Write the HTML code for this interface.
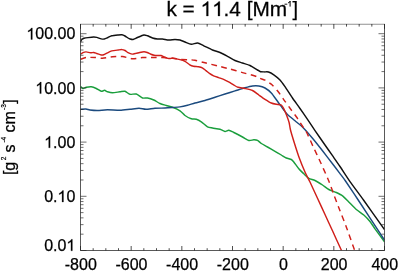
<!DOCTYPE html>
<html><head><meta charset="utf-8"><title>k = 11.4</title>
<style>html,body{margin:0;padding:0;background:#fff;}body{width:399px;height:274px;overflow:hidden;position:relative;font-family:"Liberation Sans",sans-serif;}</style>
</head><body>
<svg width="399" height="274" viewBox="0 0 399 274" style="position:absolute;left:0;top:0;will-change:transform">
<rect width="399" height="274" fill="#fff"/>
<g fill="none" stroke-linejoin="round" stroke-linecap="butt" stroke-width="1.45">
<clipPath id="c"><rect x="80.5" y="24.5" width="304.0" height="226.0"/></clipPath>
<g clip-path="url(#c)">
<path d="M80.50 86.30C80.79 86.56 82.32 88.38 83.00 88.50C83.68 88.62 85.33 87.50 86.30 87.30C87.27 87.10 90.13 86.66 91.30 86.80C92.47 86.94 95.13 87.97 96.30 88.50C97.47 89.03 100.33 91.09 101.30 91.30C102.27 91.51 103.88 90.24 104.60 90.30C105.32 90.36 106.58 91.51 107.50 91.80C108.42 92.09 111.04 92.80 112.50 92.80C113.96 92.80 118.54 91.97 120.00 91.80C121.46 91.62 123.83 91.01 125.00 91.30C126.17 91.59 128.68 93.98 130.00 94.30C131.32 94.61 134.84 93.57 136.30 94.00C137.76 94.43 141.19 97.53 142.50 98.00C143.81 98.47 146.18 97.77 147.50 98.00C148.82 98.23 152.34 99.36 153.80 100.00C155.26 100.64 158.54 102.86 160.00 103.50C161.46 104.14 164.84 105.06 166.30 105.50C167.76 105.94 170.90 106.68 172.50 107.30C174.10 107.92 178.54 109.84 180.00 110.80C181.46 111.76 183.68 114.57 185.00 115.50C186.32 116.43 189.98 118.36 191.30 118.80C192.62 119.24 195.13 118.95 196.30 119.30C197.47 119.65 199.99 120.92 201.30 121.80C202.61 122.67 206.19 126.08 207.50 126.80C208.81 127.52 211.04 127.71 212.50 128.00C213.96 128.29 218.54 128.89 220.00 129.30C221.46 129.71 223.97 131.38 225.00 131.50C226.03 131.62 227.77 130.18 228.80 130.30C229.83 130.42 232.20 131.72 233.80 132.50C235.40 133.28 240.75 136.07 242.50 137.00C244.25 137.93 247.48 140.17 248.80 140.50C250.12 140.83 252.79 139.82 253.80 139.80C254.81 139.78 256.62 139.87 257.50 140.30C258.38 140.73 260.13 142.72 261.30 143.50C262.47 144.28 265.90 146.09 267.50 147.00C269.10 147.91 273.39 150.37 275.00 151.30C276.61 152.23 279.98 154.22 281.30 155.00C282.62 155.78 285.13 157.47 286.30 158.00C287.47 158.53 290.43 159.03 291.30 159.50C292.18 159.97 292.93 160.91 293.80 162.00C294.68 163.09 297.63 167.42 298.80 168.80C299.97 170.18 302.63 172.69 303.80 173.80C304.97 174.91 307.49 177.52 308.80 178.30C310.11 179.08 313.40 179.72 315.00 180.50C316.60 181.28 320.89 183.95 322.50 185.00C324.11 186.05 327.19 188.62 328.80 189.50C330.41 190.38 334.70 191.76 336.30 192.50C337.90 193.24 341.04 194.69 342.50 195.80C343.96 196.91 347.19 200.40 348.80 202.00C350.41 203.60 354.55 207.98 356.30 209.50C358.05 211.02 362.20 213.60 363.80 215.00C365.40 216.40 368.69 219.89 370.00 221.50C371.31 223.11 373.31 226.43 375.00 228.80C376.69 231.17 383.39 240.28 384.50 241.80" stroke="#1a9e3c"/>
<path d="M80.50 109.30C81.14 109.27 84.89 108.92 86.00 109.00C87.11 109.08 88.66 109.83 90.00 110.00C91.34 110.17 95.46 110.52 97.50 110.50C99.54 110.48 104.88 109.82 107.50 109.80C110.12 109.78 117.38 110.36 120.00 110.30C122.62 110.24 127.78 109.53 130.00 109.30C132.22 109.07 137.13 108.30 139.00 108.30C140.87 108.30 144.13 109.30 146.00 109.30C147.87 109.30 152.78 108.45 155.00 108.30C157.22 108.15 162.96 108.09 165.00 108.00C167.04 107.91 170.75 107.63 172.50 107.50C174.25 107.37 178.25 107.16 180.00 106.90C181.75 106.64 185.75 105.75 187.50 105.30C189.25 104.84 192.96 103.56 195.00 103.00C197.04 102.44 202.67 101.17 205.00 100.50C207.33 99.83 212.67 98.06 215.00 97.30C217.33 96.54 222.67 94.75 225.00 94.00C227.33 93.25 232.67 91.62 235.00 90.90C237.33 90.18 242.96 88.37 245.00 87.80C247.04 87.23 250.89 86.21 252.50 86.00C254.11 85.79 257.34 85.77 258.80 86.00C260.26 86.23 263.54 87.18 265.00 88.00C266.46 88.82 269.84 91.45 271.30 93.00C272.76 94.55 276.04 99.32 277.50 101.30C278.96 103.28 282.63 108.46 283.80 110.00C284.97 111.54 286.19 113.24 287.50 114.50C288.81 115.76 293.25 119.34 295.00 120.80C296.75 122.26 300.46 124.96 302.50 127.00C304.54 129.04 310.17 135.52 312.50 138.30C314.83 141.08 320.17 147.83 322.50 150.80C324.83 153.78 330.46 161.14 332.50 163.80C334.54 166.46 338.48 171.59 340.00 173.60C341.52 175.61 343.38 177.92 345.50 181.00C347.62 184.08 353.65 193.12 358.20 200.00C362.75 206.88 381.43 235.33 384.50 240.00" stroke="#1b4a7e"/>
<path d="M80.50 59.30C81.18 59.09 84.61 57.71 86.30 57.50C87.99 57.29 93.11 57.41 95.00 57.50C96.89 57.59 100.46 58.38 102.50 58.30C104.54 58.22 110.17 57.01 112.50 56.80C114.83 56.59 120.17 56.27 122.50 56.50C124.83 56.73 130.17 58.68 132.50 58.80C134.83 58.92 140.17 57.65 142.50 57.50C144.83 57.35 150.17 57.50 152.50 57.50C154.83 57.50 160.17 57.44 162.50 57.50C164.83 57.56 170.46 57.78 172.50 58.00C174.54 58.22 177.96 59.19 180.00 59.40C182.04 59.61 188.25 59.70 190.00 59.80C191.75 59.90 193.25 59.95 195.00 60.30C196.75 60.65 202.38 62.15 205.00 62.80C207.62 63.45 214.58 65.18 217.50 65.90C220.42 66.62 227.08 68.22 230.00 69.00C232.92 69.78 239.58 71.78 242.50 72.60C245.42 73.42 252.96 75.32 255.00 76.00C257.04 76.68 258.83 77.91 260.00 78.40C261.17 78.89 263.54 79.40 265.00 80.20C266.46 81.00 270.89 83.86 272.50 85.30C274.11 86.73 277.34 90.63 278.80 92.50C280.26 94.37 283.54 99.26 285.00 101.30C286.46 103.34 289.81 107.96 291.30 110.00C292.79 112.04 296.40 116.76 297.80 118.80C299.20 120.84 302.26 125.90 303.30 127.50C304.34 129.10 305.57 130.31 306.70 132.50C307.83 134.69 311.38 142.80 313.00 146.30C314.62 149.80 318.99 159.00 320.60 162.50C322.21 166.00 325.80 174.03 326.80 176.30C327.80 178.58 328.38 179.88 329.20 182.00C330.02 184.12 332.54 191.14 333.80 194.50C335.06 197.86 338.54 207.01 340.00 210.80C341.46 214.59 344.59 222.37 346.30 227.00C348.01 231.63 353.72 247.76 354.70 250.50" stroke="#d01f1a" stroke-dasharray="5.7 4.48"/>
<path d="M80.50 54.20C80.79 54.01 82.35 52.87 83.00 52.60C83.65 52.33 85.22 51.88 86.10 51.90C86.97 51.92 89.61 52.73 90.50 52.80C91.39 52.87 92.97 52.42 93.70 52.50C94.44 52.58 95.92 53.21 96.80 53.50C97.67 53.79 100.39 54.85 101.20 55.00C102.01 55.15 102.97 55.06 103.70 54.80C104.44 54.54 106.56 53.25 107.50 52.80C108.44 52.34 110.56 51.23 111.80 50.90C113.04 50.57 116.92 50.15 118.10 50.00C119.28 49.85 121.09 49.54 121.90 49.60C122.71 49.66 124.29 50.15 125.00 50.50C125.71 50.85 127.17 52.18 128.00 52.60C128.83 53.02 131.17 54.01 132.10 54.10C133.03 54.19 135.11 53.59 136.00 53.40C136.89 53.21 138.77 52.69 139.70 52.50C140.63 52.31 143.12 51.80 144.00 51.80C144.88 51.80 146.39 52.22 147.20 52.50C148.00 52.78 150.09 53.89 150.90 54.20C151.71 54.52 153.29 55.05 154.10 55.20C154.91 55.35 157.00 55.47 157.80 55.50C158.61 55.53 160.27 55.34 161.00 55.50C161.73 55.66 163.29 56.56 164.10 56.90C164.91 57.24 166.92 58.23 167.90 58.40C168.88 58.57 171.09 58.26 172.50 58.40C173.91 58.54 178.54 59.26 180.00 59.60C181.46 59.94 183.86 60.69 185.00 61.30C186.14 61.91 188.81 64.23 189.80 64.80C190.79 65.37 192.49 65.98 193.50 66.20C194.51 66.42 197.47 66.51 198.50 66.70C199.53 66.89 201.43 67.34 202.30 67.80C203.18 68.25 205.12 69.91 206.00 70.60C206.88 71.29 208.91 73.09 209.80 73.70C210.69 74.31 212.57 75.34 213.60 75.80C214.63 76.25 217.43 77.19 218.60 77.60C219.77 78.01 222.43 78.80 223.60 79.30C224.77 79.80 227.43 81.25 228.60 81.90C229.77 82.55 232.50 84.27 233.60 84.90C234.70 85.53 236.67 86.88 238.00 87.30C239.33 87.72 243.31 88.13 245.00 88.50C246.69 88.87 250.89 89.74 252.50 90.50C254.11 91.26 257.34 93.97 258.80 95.00C260.26 96.03 263.54 98.37 265.00 99.30C266.46 100.23 269.98 102.42 271.30 103.00C272.62 103.58 275.13 104.07 276.30 104.30C277.47 104.53 280.43 104.47 281.30 105.00C282.18 105.53 283.19 107.63 283.80 108.80C284.41 109.97 285.88 113.40 286.50 115.00C287.12 116.60 288.63 120.75 289.10 122.50C289.57 124.25 289.91 127.67 290.50 130.00C291.09 132.33 293.20 139.29 294.20 142.50C295.20 145.71 297.82 154.00 299.10 157.50C300.38 161.00 303.93 169.64 305.20 172.50C306.47 175.36 308.56 178.99 310.00 182.00C311.44 185.01 315.75 194.51 317.50 198.30C319.25 202.09 323.25 210.71 325.00 214.50C326.75 218.29 330.57 226.60 332.50 230.80C334.43 235.00 340.45 248.20 341.50 250.50" stroke="#d01f1a"/>
<path d="M80.50 42.00C80.59 41.79 81.07 40.55 81.30 40.20C81.53 39.85 82.19 39.22 82.50 39.00C82.81 38.78 83.36 38.46 84.00 38.30C84.64 38.14 86.87 37.75 88.00 37.60C89.13 37.45 92.67 37.02 93.70 37.00C94.73 36.98 95.92 37.18 96.80 37.40C97.67 37.62 100.33 38.71 101.20 38.90C102.08 39.09 103.51 39.16 104.30 39.00C105.09 38.84 107.12 37.87 108.00 37.50C108.88 37.13 110.62 36.09 111.80 35.80C112.98 35.51 116.92 35.12 118.10 35.00C119.28 34.88 121.09 34.68 121.90 34.80C122.71 34.92 124.29 35.63 125.00 36.00C125.71 36.37 127.42 37.65 128.00 38.00C128.58 38.35 129.42 38.83 130.00 39.00C130.58 39.17 132.12 39.67 133.00 39.50C133.88 39.33 136.24 38.02 137.50 37.50C138.76 36.98 142.63 35.20 143.80 35.00C144.97 34.80 146.49 35.45 147.50 35.80C148.51 36.15 151.33 37.63 152.50 38.00C153.67 38.37 156.33 38.88 157.50 39.00C158.67 39.12 161.18 38.88 162.50 39.00C163.82 39.12 167.34 39.94 168.80 40.00C170.26 40.06 173.69 39.50 175.00 39.50C176.31 39.50 178.83 39.71 180.00 40.00C181.17 40.29 183.68 41.50 185.00 42.00C186.32 42.50 189.84 44.18 191.30 44.30C192.76 44.42 196.04 42.83 197.50 43.00C198.96 43.17 202.05 44.98 203.80 45.80C205.55 46.62 210.61 49.22 212.50 50.00C214.39 50.78 218.25 51.77 220.00 52.50C221.75 53.23 225.75 55.37 227.50 56.30C229.25 57.23 233.25 59.72 235.00 60.50C236.75 61.28 240.75 62.42 242.50 63.00C244.25 63.58 248.25 64.68 250.00 65.50C251.75 66.32 256.27 69.28 257.50 70.00C258.73 70.72 259.68 71.48 260.50 71.70C261.32 71.92 263.57 71.87 264.50 71.90C265.43 71.94 267.42 71.66 268.50 72.00C269.58 72.34 272.46 73.87 273.80 74.80C275.14 75.73 278.69 78.61 280.00 80.00C281.31 81.39 283.54 84.60 285.00 86.70C286.46 88.80 290.75 95.46 292.50 98.00C294.25 100.54 298.31 106.08 300.00 108.50C301.69 110.92 305.25 116.12 307.00 118.70C308.75 121.28 312.90 127.53 315.00 130.60C317.10 133.67 322.96 142.07 325.00 145.00C327.04 147.93 330.75 153.19 332.50 155.70C334.25 158.21 337.96 163.48 340.00 166.50C342.04 169.52 347.26 177.69 350.00 181.60C352.74 185.51 359.48 194.40 363.50 200.00C367.52 205.60 382.05 226.15 384.50 229.60" stroke="#111"/>
</g></g>
<g fill="none" stroke="#222" stroke-width="0.75">
<path d="M80.50 24.00V250.50H384.50V24.00"/>
<path stroke-width="0.5" d="M80.10 24.25H384.90"/>
<path stroke-width="0.65" d="M80.50 250.50h6.0M384.50 250.50h-6.0M80.50 234.18h3.0M384.50 234.18h-3.0M80.50 224.64h3.0M384.50 224.64h-3.0M80.50 217.87h3.0M384.50 217.87h-3.0M80.50 212.62h3.0M384.50 212.62h-3.0M80.50 208.32h3.0M384.50 208.32h-3.0M80.50 204.70h3.0M384.50 204.70h-3.0M80.50 201.55h3.0M384.50 201.55h-3.0M80.50 198.78h3.0M384.50 198.78h-3.0M80.50 196.30h6.0M384.50 196.30h-6.0M80.50 179.98h3.0M384.50 179.98h-3.0M80.50 170.44h3.0M384.50 170.44h-3.0M80.50 163.67h3.0M384.50 163.67h-3.0M80.50 158.42h3.0M384.50 158.42h-3.0M80.50 154.12h3.0M384.50 154.12h-3.0M80.50 150.50h3.0M384.50 150.50h-3.0M80.50 147.35h3.0M384.50 147.35h-3.0M80.50 144.58h3.0M384.50 144.58h-3.0M80.50 142.10h6.0M384.50 142.10h-6.0M80.50 125.78h3.0M384.50 125.78h-3.0M80.50 116.24h3.0M384.50 116.24h-3.0M80.50 109.47h3.0M384.50 109.47h-3.0M80.50 104.22h3.0M384.50 104.22h-3.0M80.50 99.92h3.0M384.50 99.92h-3.0M80.50 96.30h3.0M384.50 96.30h-3.0M80.50 93.15h3.0M384.50 93.15h-3.0M80.50 90.38h3.0M384.50 90.38h-3.0M80.50 87.90h6.0M384.50 87.90h-6.0M80.50 71.58h3.0M384.50 71.58h-3.0M80.50 62.04h3.0M384.50 62.04h-3.0M80.50 55.27h3.0M384.50 55.27h-3.0M80.50 50.02h3.0M384.50 50.02h-3.0M80.50 45.72h3.0M384.50 45.72h-3.0M80.50 42.10h3.0M384.50 42.10h-3.0M80.50 38.95h3.0M384.50 38.95h-3.0M80.50 36.18h3.0M384.50 36.18h-3.0M80.50 33.70h6.0M384.50 33.70h-6.0"/>
<path stroke-width="0.8" d="M80.50 250.50v-4.5M80.50 24.00v4.8M93.17 250.50v-2.3M93.17 24.00v2.6M105.83 250.50v-2.3M105.83 24.00v2.6M118.50 250.50v-2.3M118.50 24.00v2.6M131.17 250.50v-4.5M131.17 24.00v4.8M143.83 250.50v-2.3M143.83 24.00v2.6M156.50 250.50v-2.3M156.50 24.00v2.6M169.17 250.50v-2.3M169.17 24.00v2.6M181.83 250.50v-4.5M181.83 24.00v4.8M194.50 250.50v-2.3M194.50 24.00v2.6M207.17 250.50v-2.3M207.17 24.00v2.6M219.83 250.50v-2.3M219.83 24.00v2.6M232.50 250.50v-4.5M232.50 24.00v4.8M245.17 250.50v-2.3M245.17 24.00v2.6M257.83 250.50v-2.3M257.83 24.00v2.6M270.50 250.50v-2.3M270.50 24.00v2.6M283.17 250.50v-4.5M283.17 24.00v4.8M295.83 250.50v-2.3M295.83 24.00v2.6M308.50 250.50v-2.3M308.50 24.00v2.6M321.17 250.50v-2.3M321.17 24.00v2.6M333.83 250.50v-4.5M333.83 24.00v4.8M346.50 250.50v-2.3M346.50 24.00v2.6M359.17 250.50v-2.3M359.17 24.00v2.6M371.83 250.50v-2.3M371.83 24.00v2.6M384.50 250.50v-4.5M384.50 24.00v4.8"/>
</g>
<g font-family="Liberation Sans, sans-serif" font-size="16" fill="#000" stroke="#000" stroke-width="0.25" xml:space="preserve" style="white-space:pre">
<text x="75.3" y="39.4" text-anchor="end">  00.00</text>
<path transform="translate(26.36 39.40) scale(16.000 16.000)" stroke-width="0.0156" d="M0.373 0H0.285V-0.562C0.25 -0.53 0.18 -0.488 0.109 -0.46V-0.545C0.2 -0.59 0.29 -0.66 0.316 -0.719H0.373Z"/>
<text x="75.3" y="93.6" text-anchor="end">  0.00</text>
<path transform="translate(35.26 93.60) scale(16.000 16.000)" stroke-width="0.0156" d="M0.373 0H0.285V-0.562C0.25 -0.53 0.18 -0.488 0.109 -0.46V-0.545C0.2 -0.59 0.29 -0.66 0.316 -0.719H0.373Z"/>
<text x="75.3" y="147.8" text-anchor="end">  .00</text>
<path transform="translate(44.16 147.80) scale(16.000 16.000)" stroke-width="0.0156" d="M0.373 0H0.285V-0.562C0.25 -0.53 0.18 -0.488 0.109 -0.46V-0.545C0.2 -0.59 0.29 -0.66 0.316 -0.719H0.373Z"/>
<text x="75.3" y="202.0" text-anchor="end">0.  0</text>
<path transform="translate(57.50 202.00) scale(16.000 16.000)" stroke-width="0.0156" d="M0.373 0H0.285V-0.562C0.25 -0.53 0.18 -0.488 0.109 -0.46V-0.545C0.2 -0.59 0.29 -0.66 0.316 -0.719H0.373Z"/>
<text x="75.3" y="250.8" text-anchor="end">0.0  </text>
<path transform="translate(66.40 250.80) scale(16.000 16.000)" stroke-width="0.0156" d="M0.373 0H0.285V-0.562C0.25 -0.53 0.18 -0.488 0.109 -0.46V-0.545C0.2 -0.59 0.29 -0.66 0.316 -0.719H0.373Z"/>
<text x="80.8" y="270" text-anchor="middle">-800</text>
<text x="131.5" y="270" text-anchor="middle">-600</text>
<text x="182.1" y="270" text-anchor="middle">-400</text>
<text x="232.8" y="270" text-anchor="middle">-200</text>
<text x="283.5" y="270" text-anchor="middle">0</text>
<text x="334.1" y="270" text-anchor="middle">200</text>
<text x="384.8" y="270" text-anchor="middle">400</text>
<g transform="translate(166.4 16) scale(1.04 1)"><text font-size="20" x="0" y="0">k =     .4 [Mm</text><path transform="translate(32.80 0.00) scale(20.000 20.000)" stroke-width="0.0125" d="M0.373 0H0.285V-0.562C0.25 -0.53 0.18 -0.488 0.109 -0.46V-0.545C0.2 -0.59 0.29 -0.66 0.316 -0.719H0.373Z"/><path transform="translate(43.93 0.00) scale(20.000 20.000)" stroke-width="0.0125" d="M0.373 0H0.285V-0.562C0.25 -0.53 0.18 -0.488 0.109 -0.46V-0.545C0.2 -0.59 0.29 -0.66 0.316 -0.719H0.373Z"/></g>
<path d="M284.5 4.2H287.3" stroke-width="0.9" fill="none"/><path d="M288.1 2.9L289.6 2.2L290.1 1.1V6.6" stroke-width="1" stroke-linejoin="miter" fill="none"/>
<text font-size="20" x="292.6" y="16">]</text>
<text transform="translate(14.6 175.1) rotate(-90)">[g<tspan font-size="6.5" stroke-width="0.2" dy="-8.6" dx="1.5">2</tspan><tspan dy="8.6" dx="-0.39"> s</tspan><tspan font-size="6.5" stroke-width="0.2" dy="-8.6" dx="2">-4</tspan><tspan dy="8.6" dx="-0.22"> cm</tspan><tspan font-size="6.5" stroke-width="0.2" dy="-8.6" dx="1.2">-3</tspan><tspan dy="8.6" dx="0.58">]</tspan></text>
</g>
</svg>
</body></html>
